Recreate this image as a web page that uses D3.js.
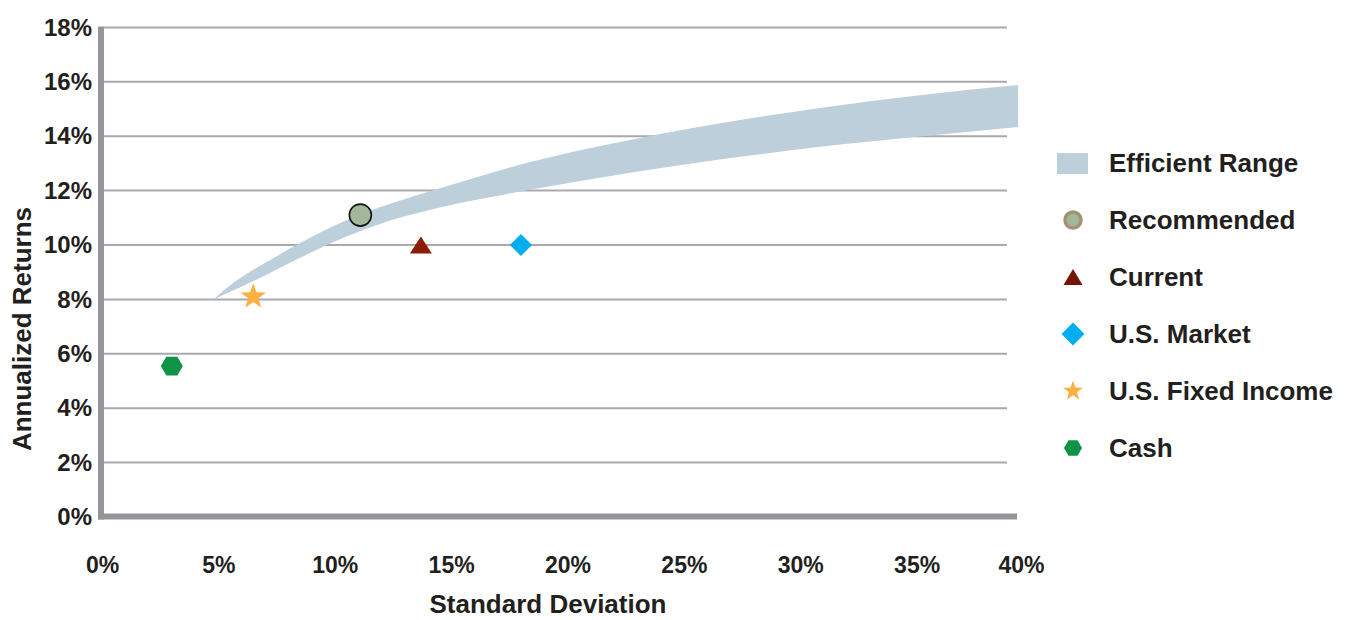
<!DOCTYPE html>
<html>
<head>
<meta charset="utf-8">
<script src="https://cdn.jsdelivr.net/npm/d3@7"></script>
<style>
  html, body { margin: 0; padding: 0; background: #ffffff; }
  svg { display: block; }
  text { font-family: "Liberation Sans", Arial, Helvetica, sans-serif; font-weight: bold; fill: #231f20; }
</style>
</head>
<body>
<svg id="chart" width="1349" height="620"></svg>
<script>
// Axis ticks (percent)
const sdTicks = [0, 5, 10, 15, 20, 25, 30, 35, 40];
const returnTicks = [0, 2, 4, 6, 8, 10, 12, 14, 16, 18];

// Efficient range band: standard deviation with upper / lower annualized return
const bandSD    = [4.81, 5.63, 7.09, 8.51, 9.92, 11.13, 12.25, 14.52, 18.39, 22.69, 26.77, 30.85, 35.14, 39.36];
const bandUpper = [8.01, 8.60, 9.38, 10.07, 10.69, 11.13, 11.48, 12.09, 13.05, 13.86, 14.50, 15.04, 15.51, 15.88];
const bandLower = [8.01, 8.33, 8.92, 9.53, 10.10, 10.52, 10.86, 11.38, 12.03, 12.66, 13.17, 13.61, 13.99, 14.34];

// Portfolios
const portfolioNames   = ["Recommended", "Current", "U.S. Market", "U.S. Fixed Income", "Cash"];
const portfolioSD      = [11.1, 13.7, 18.0, 6.5, 3.0];
const portfolioReturns = [11.1, 10.0, 10.0, 8.1, 5.55];

const legendLabels = ["Efficient Range", "Recommended", "Current", "U.S. Market", "U.S. Fixed Income", "Cash"];

const svg = d3.select("#chart");

const plotLeft = 102, plotRight = 1017, plotTop = 27.4, plotBottom = 517;
const x = d3.scaleLinear().domain([0, 40]).range([plotLeft, 1033]);
const y = d3.scaleLinear().domain([0, 18]).range([plotBottom, plotTop]);

// Horizontal gridlines
svg.append("g").selectAll("line")
  .data(returnTicks.filter(t => t > 0))
  .join("line")
  .attr("x1", plotLeft + 2).attr("x2", 1007)
  .attr("y1", d => y(d)).attr("y2", d => y(d))
  .attr("stroke", "#a7a9ac").attr("stroke-width", 2);

// Efficient range band
const bandData = bandSD.map((s, i) => ({ sd: s, hi: bandUpper[i], lo: bandLower[i] }));
svg.append("path")
  .datum(bandData)
  .attr("fill", "#bccfda")
  .attr("d", d3.area()
    .x(d => x(d.sd))
    .y0(d => y(d.lo))
    .y1(d => y(d.hi))
    .curve(d3.curveMonotoneX));

// Axis bars
svg.append("line")
  .attr("x1", plotLeft - 1).attr("x2", plotLeft - 1)
  .attr("y1", plotTop - 1).attr("y2", plotBottom + 2.5)
  .attr("stroke", "#939598").attr("stroke-width", 6);
svg.append("line")
  .attr("x1", plotLeft - 4).attr("x2", plotRight)
  .attr("y1", plotBottom - 0.5).attr("y2", plotBottom - 0.5)
  .attr("stroke", "#939598").attr("stroke-width", 6);

// Y tick labels
const yAxis = d3.axisLeft(y).tickValues(returnTicks).tickFormat(d => d + "%").tickSize(0).tickPadding(0);
const gy = svg.append("g").attr("transform", `translate(${plotLeft - 10},0)`).call(yAxis);
gy.select(".domain").remove();
gy.selectAll("text").style("font-size", "24px").attr("fill", "#231f20")
  .style("font-family", "'Liberation Sans', Arial, sans-serif").style("font-weight", "bold");

// X tick labels
const xAxis = d3.axisBottom(x).tickValues(sdTicks).tickFormat(d => d + "%").tickSize(0).tickPadding(0);
const gx = svg.append("g").attr("transform", `translate(0,${plotBottom + 40})`).call(xAxis);
gx.select(".domain").remove();
gx.selectAll("text").style("font-size", "23px").attr("fill", "#231f20")
  .style("font-family", "'Liberation Sans', Arial, sans-serif").style("font-weight", "bold")
  .attr("dx", d => d === 40 ? -12 : 0);

// Axis titles
svg.append("text")
  .attr("x", 548).attr("y", 613)
  .attr("text-anchor", "middle")
  .style("font-size", "26px")
  .text("Standard Deviation");
svg.append("text")
  .attr("transform", `translate(31,${329}) rotate(-90)`)
  .attr("text-anchor", "middle")
  .style("font-size", "26px")
  .text("Annualized Returns");

// Marker shapes
function hexagonPath(r) {
  const pts = d3.range(6).map(i => {
    const a = Math.PI / 3 * i;
    return [r * Math.cos(a), r * Math.sin(a) * 0.98];
  });
  return d3.line()(pts) + "Z";
}
function trianglePath(w, h) {
  return d3.line()([[0, -h / 2], [w / 2, h / 2], [-w / 2, h / 2]]) + "Z";
}
function diamondPath(r) {
  return d3.line()([[0, -r], [r, 0], [0, r], [-r, 0]]) + "Z";
}
function starPath(r) {
  const pts = d3.range(10).map(i => {
    const a = -Math.PI / 2 + i * Math.PI / 5;
    const rr = i % 2 === 0 ? r : r * 0.4;
    return [rr * Math.cos(a), rr * Math.sin(a)];
  });
  return d3.line()(pts) + "Z";
}

const styles = {
  "Recommended":       { plot: g => g.append("circle").attr("r", 11).attr("fill", "#a3b79b").attr("stroke", "#111").attr("stroke-width", 1.6),
                         legend: g => g.append("circle").attr("r", 8).attr("fill", "#a3b79b").attr("stroke", "#a39274").attr("stroke-width", 3.5) },
  "Current":           { plot: g => g.append("path").attr("d", trianglePath(22, 17)).attr("fill", "#8a1e04"),
                         legend: g => g.append("path").attr("d", trianglePath(19, 16)).attr("fill", "#741503") },
  "U.S. Market":       { plot: g => g.append("path").attr("d", diamondPath(11)).attr("fill", "#00aeef"),
                         legend: g => g.append("path").attr("d", diamondPath(11.5)).attr("fill", "#00aeef") },
  "U.S. Fixed Income": { plot: g => g.append("path").attr("d", starPath(13.5)).attr("fill", "#fdb042"),
                         legend: g => g.append("path").attr("d", starPath(10.5)).attr("fill", "#fdb042") },
  "Cash":              { plot: g => g.append("path").attr("d", hexagonPath(11)).attr("fill", "#0f9447"),
                         legend: g => g.append("path").attr("d", hexagonPath(9)).attr("fill", "#0f9447") }
};

// Portfolio markers
portfolioNames.forEach((name, i) => {
  const g = svg.append("g").attr("transform", `translate(${x(portfolioSD[i])},${y(portfolioReturns[i])})`);
  styles[name].plot(g);
});

// Legend
const legendX = 1073, legendTextX = 1109, legendTop = 163, legendStep = 57;
legendLabels.forEach((label, i) => {
  const cy = legendTop + i * legendStep;
  const g = svg.append("g").attr("transform", `translate(${legendX},${cy})`);
  if (i === 0) {
    g.append("rect").attr("x", -16).attr("y", -10).attr("width", 31).attr("height", 21).attr("fill", "#bccfda");
  } else {
    styles[label].legend(g);
  }
  svg.append("text")
    .attr("x", legendTextX).attr("y", cy + 9)
    .style("font-size", "26px")
    .text(label);
});
</script>
</body>
</html>
